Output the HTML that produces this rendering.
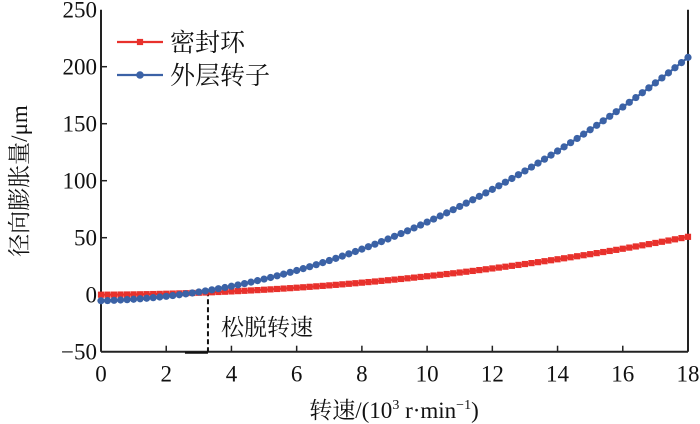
<!DOCTYPE html>
<html><head><meta charset="utf-8"><style>
html,body{margin:0;padding:0;background:#fff}
svg{display:block}
text{font-family:"Liberation Serif","Noto Serif CJK SC",serif;fill:#111}
.cjk{font-family:"Liberation Serif","Noto Serif CJK SC","Noto Sans CJK SC",serif}
</style></head><body>
<svg id="chart" width="700" height="424" viewBox="0 0 700 424" xmlns="http://www.w3.org/2000/svg"></svg>
<script>
const speeds=[0,0.2,0.4,0.6,0.8,1,1.2,1.4,1.6,1.8,2,2.2,2.4,2.6,2.8,3,3.2,3.4,3.6,3.8,4,4.2,4.4,4.6,4.8,5,5.2,5.4,5.6,5.8,6,6.2,6.4,6.6,6.8,7,7.2,7.4,7.6,7.8,8,8.2,8.4,8.6,8.8,9,9.2,9.4,9.6,9.8,10,10.2,10.4,10.6,10.8,11,11.2,11.4,11.6,11.8,12,12.2,12.4,12.6,12.8,13,13.2,13.4,13.6,13.8,14,14.2,14.4,14.6,14.8,15,15.2,15.4,15.6,15.8,16,16.2,16.4,16.6,16.8,17,17.2,17.4,17.6,17.8,18];
const sealRing=[0,0.03,0.07,0.13,0.19,0.27,0.36,0.46,0.58,0.7,0.84,0.99,1.15,1.33,1.51,1.71,1.92,2.14,2.38,2.62,2.88,3.15,3.43,3.73,4.03,4.35,4.68,5.02,5.38,5.74,6.12,6.51,6.91,7.33,7.75,8.19,8.64,9.1,9.58,10.06,10.56,11.07,11.59,12.13,12.67,13.23,13.8,14.38,14.98,15.58,16.2,16.83,17.47,18.13,18.79,19.47,20.16,20.86,21.58,22.3,23.04,23.79,24.55,25.33,26.11,26.91,27.72,28.54,29.38,30.22,31.08,31.95,32.83,33.73,34.63,35.55,36.48,37.42,38.38,39.34,40.32,41.31,42.31,43.33,44.35,45.39,46.44,47.5,48.58,49.66,50.76];
const outerRotor=[-5.3,-5.14,-4.92,-4.66,-4.34,-3.98,-3.57,-3.11,-2.59,-2.03,-1.42,-0.76,-0.05,0.71,1.52,2.38,3.29,4.25,5.26,6.31,7.42,8.58,9.78,11.04,12.35,13.7,15.11,16.56,18.06,19.62,21.22,22.87,24.58,26.33,28.13,29.98,31.88,33.83,35.83,37.88,39.98,42.13,44.33,46.58,48.87,51.22,53.62,56.06,58.56,61.11,63.7,66.35,69.04,71.78,74.58,77.42,80.31,83.26,86.25,89.29,92.38,95.52,98.71,101.95,105.24,108.58,111.97,115.41,118.9,122.43,126.02,129.66,133.34,137.08,140.87,144.7,148.59,152.52,156.5,160.54,164.62,168.75,172.94,177.17,181.45,185.78,190.16,194.59,199.07,203.6,208.18];
const xTicks=[0,2,4,6,8,10,12,14,16,18];
const yTicks=[-50,0,50,100,150,200,250];
const looseSpeed=3.28;

const NS="http://www.w3.org/2000/svg";
const svg=document.getElementById('chart');
const L=101,R=688,T=9.7,B=351.7;
const X=v=>L+(v-0)/(18-0)*(R-L);
const Y=v=>B-(v+50)/300*(B-T);
function el(tag,attrs,parent){const e=document.createElementNS(NS,tag);for(const k in attrs)e.setAttribute(k,attrs[k]);(parent||svg).appendChild(e);return e;}

const ax=el('g',{});


el('line',{x1:L,y1:T,x2:L,y2:B,stroke:'#222','stroke-width':2},ax);
el('line',{x1:R,y1:T,x2:R,y2:B,stroke:'#222','stroke-width':2},ax);
el('line',{x1:L,y1:B,x2:R,y2:B,stroke:'#222','stroke-width':2},ax);
xTicks.forEach(t=>{
  if(t>0&&t<18)el('line',{x1:X(t),y1:B,x2:X(t),y2:B-6,stroke:'#222','stroke-width':1.5},ax);
  const tx=el('text',{x:X(t),y:B+30,'text-anchor':'middle','font-size':23},ax);
  tx.textContent=t;
  
  
});
yTicks.forEach(t=>{
  if(t>-50&&t<250)el('line',{x1:L,y1:Y(t),x2:L+6,y2:Y(t),stroke:'#222','stroke-width':1.5},ax);
  const tx=el('text',{x:L-4,y:Y(t)+8,'text-anchor':'end','font-size':23},ax);
  tx.textContent=t===-50?'\u221250':t;
  
  
});

const dl=el('line',{x1:X(looseSpeed),y1:Y(3),x2:X(looseSpeed),y2:B,stroke:'#111','stroke-width':2,'stroke-dasharray':'5,3'});


const seg=el('line',{x1:X(looseSpeed)-23,y1:B+1,x2:X(looseSpeed),y2:B+1,stroke:'#111','stroke-width':2});


const lt=el('text',{x:221,y:335,'font-size':23,class:'cjk'});
lt.textContent='松脱转速';



function series(vals,color,shape,name){
  const g=el('g',{});
  
  
  el('polyline',{points:speeds.map((s,i)=>X(s)+','+Y(vals[i])).join(' '),fill:'none',stroke:color,'stroke-width':2.2},g);
  speeds.forEach((s,i)=>{
    let m;
    if(shape==='sq')m=el('rect',{x:X(s)-3.1,y:Y(vals[i])-3.1,width:6.2,height:6.2,fill:color},g);
    else m=el('circle',{cx:X(s),cy:Y(vals[i]),r:3.6,fill:color},g);
    
    
  });
}
series(sealRing,'#e8312c','sq','seal-ring-series');
series(outerRotor,'#3b62a6','ci','outer-rotor-series');

const lg=el('g',{});


el('line',{x1:117,y1:42,x2:163,y2:42,stroke:'#e8312c','stroke-width':2.2},lg);
el('rect',{x:136.9,y:38.9,width:6.2,height:6.2,fill:'#e8312c'},lg);
const t1=el('text',{x:170,y:51,'font-size':25,class:'cjk'},lg);t1.textContent='密封环';


el('line',{x1:117,y1:75,x2:163,y2:75,stroke:'#3b62a6','stroke-width':2.2},lg);
el('circle',{cx:140,cy:75,r:3.8,fill:'#3b62a6'},lg);
const t2=el('text',{x:170,y:84,'font-size':25,class:'cjk'},lg);t2.textContent='外层转子';



const xt=el('text',{x:394,y:418,'text-anchor':'middle','font-size':23,class:'cjk'});
xt.innerHTML='转速/(10<tspan font-size="14" dy="-9">3</tspan><tspan dy="9"> r·min</tspan><tspan font-size="14" dy="-9">−1</tspan><tspan dy="9">)</tspan>';


const yt=el('text',{x:0,y:0,'text-anchor':'middle','font-size':23,class:'cjk',transform:'translate(27,181) rotate(-90)'});
yt.textContent='径向膨胀量/μm';


</script>
</body></html>
